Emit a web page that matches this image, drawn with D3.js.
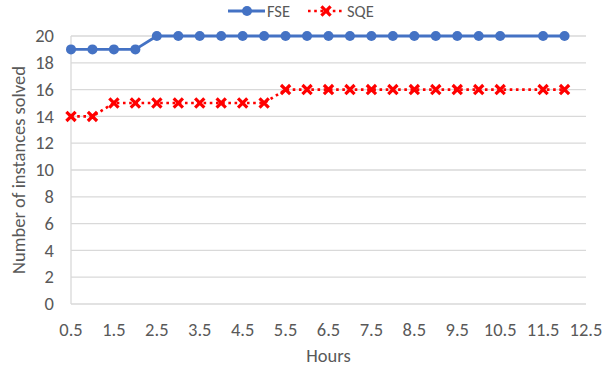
<!DOCTYPE html>
<html>
<head>
<meta charset="utf-8">
<script src="https://cdn.jsdelivr.net/npm/d3@7"></script>
<style>
  html, body { margin: 0; padding: 0; background: #fff; }
  svg { display: block; font-family: Carlito, "Open Sans", "Liberation Sans", sans-serif; }
</style>
</head>
<body>
<svg id="chart" width="610" height="368"></svg>
<script>
// Hours at which each run was sampled (no sample at 11)
const hours = [0.5, 1, 1.5, 2, 2.5, 3, 3.5, 4, 4.5, 5, 5.5, 6, 6.5, 7, 7.5, 8, 8.5, 9, 9.5, 10, 10.5, 11.5, 12];
const fseSolved = [19, 19, 19, 19, 20, 20, 20, 20, 20, 20, 20, 20, 20, 20, 20, 20, 20, 20, 20, 20, 20, 20, 20];
const sqeSolved = [14, 14, 15, 15, 15, 15, 15, 15, 15, 15, 16, 16, 16, 16, 16, 16, 16, 16, 16, 16, 16, 16, 16];
const xTicks = [0.5, 1.5, 2.5, 3.5, 4.5, 5.5, 6.5, 7.5, 8.5, 9.5, 10.5, 11.5, 12.5];
const yTicks = [0, 2, 4, 6, 8, 10, 12, 14, 16, 18, 20];
const seriesNames = ["FSE", "SQE"];

const svg = d3.select("#chart");
const plotLeft = 71, plotRight = 586, plotTop = 36, plotBottom = 304;
const fontSize = 18.5;

const x = d3.scaleLinear().domain([0.5, 12.5]).range([plotLeft, plotRight]);
const y = d3.scaleLinear().domain([0, 20]).range([plotBottom, plotTop]);

const textColor = "#595959";
const gridColor = "#d9d9d9";

// Horizontal gridlines
svg.append("g")
  .selectAll("line")
  .data(yTicks.filter(d => d > 0))
  .join("line")
  .attr("x1", plotLeft).attr("x2", plotRight)
  .attr("y1", d => y(d)).attr("y2", d => y(d))
  .attr("stroke", gridColor).attr("stroke-width", 1.3);

// Axis lines
svg.append("line")
  .attr("x1", plotLeft).attr("x2", plotRight).attr("y1", y(0)).attr("y2", y(0))
  .attr("stroke", gridColor).attr("stroke-width", 1.3);
svg.append("line")
  .attr("x1", plotLeft).attr("x2", plotLeft).attr("y1", y(0)).attr("y2", y(20))
  .attr("stroke", gridColor).attr("stroke-width", 1.3);

// Y tick labels
svg.append("g")
  .selectAll("text")
  .data(yTicks)
  .join("text")
  .attr("x", 54)
  .attr("y", d => y(d))
  .attr("dy", "0.34em")
  .attr("text-anchor", "end")
  .attr("font-size", fontSize)
  .attr("fill", textColor)
  .text(d => d);

// X tick labels
svg.append("g")
  .selectAll("text")
  .data(xTicks)
  .join("text")
  .attr("x", d => x(d))
  .attr("y", 336)
  .attr("text-anchor", "middle")
  .attr("font-size", fontSize)
  .attr("fill", textColor)
  .text(d => d);

// Axis titles
svg.append("text")
  .attr("x", x(6.5))
  .attr("y", 362)
  .attr("text-anchor", "middle")
  .attr("font-size", fontSize)
  .attr("fill", textColor)
  .text("Hours");

svg.append("text")
  .attr("transform", `translate(25, 170) rotate(-90)`)
  .attr("text-anchor", "middle")
  .attr("font-size", fontSize)
  .attr("fill", textColor)
  .text("Number of instances solved");

const blue = "#4472C4";
const red = "#FF0000";

const line = d3.line().x(d => x(d[0])).y(d => y(d[1]));
const fsePts = hours.map((h, i) => [h, fseSolved[i]]);
const sqePts = hours.map((h, i) => [h, sqeSolved[i]]);

// SQE dotted line with x markers
svg.append("path")
  .attr("d", line(sqePts))
  .attr("fill", "none")
  .attr("stroke", red)
  .attr("stroke-width", 2.6)
  .attr("stroke-dasharray", "2.6 3.6");

function xMark(g, cx, cy, s) {
  g.append("path")
    .attr("d", `M${cx - s},${cy - s}L${cx + s},${cy + s}M${cx - s},${cy + s}L${cx + s},${cy - s}`)
    .attr("stroke", red)
    .attr("stroke-width", 3.2)
    .attr("fill", "none");
}
const sqeMarks = svg.append("g");
sqePts.forEach(p => xMark(sqeMarks, x(p[0]), y(p[1]), 4.6));

// FSE solid line with circle markers
svg.append("path")
  .attr("d", line(fsePts))
  .attr("fill", "none")
  .attr("stroke", blue)
  .attr("stroke-width", 2.8)
  .attr("stroke-linejoin", "round");

svg.append("g")
  .selectAll("circle")
  .data(fsePts)
  .join("circle")
  .attr("cx", d => x(d[0]))
  .attr("cy", d => y(d[1]))
  .attr("r", 5)
  .attr("fill", blue);

// Legend
const legendY = 11;
const legendFont = 16.5;
const legend = svg.append("g");
legend.append("line")
  .attr("x1", 228).attr("x2", 265).attr("y1", legendY).attr("y2", legendY)
  .attr("stroke", blue).attr("stroke-width", 2.8);
legend.append("circle").attr("cx", 247).attr("cy", legendY).attr("r", 5).attr("fill", blue);
legend.append("text")
  .attr("x", 267).attr("y", legendY).attr("dy", "0.34em")
  .attr("font-size", legendFont).attr("fill", textColor)
  .text(seriesNames[0]);

legend.append("line")
  .attr("x1", 308).attr("x2", 345).attr("y1", legendY).attr("y2", legendY)
  .attr("stroke", red).attr("stroke-width", 2.6)
  .attr("stroke-dasharray", "2.6 3.6");
xMark(legend, 326, legendY, 4.6);
legend.append("text")
  .attr("x", 347).attr("y", legendY).attr("dy", "0.34em")
  .attr("font-size", legendFont).attr("fill", textColor)
  .text(seriesNames[1]);
</script>
</body>
</html>
